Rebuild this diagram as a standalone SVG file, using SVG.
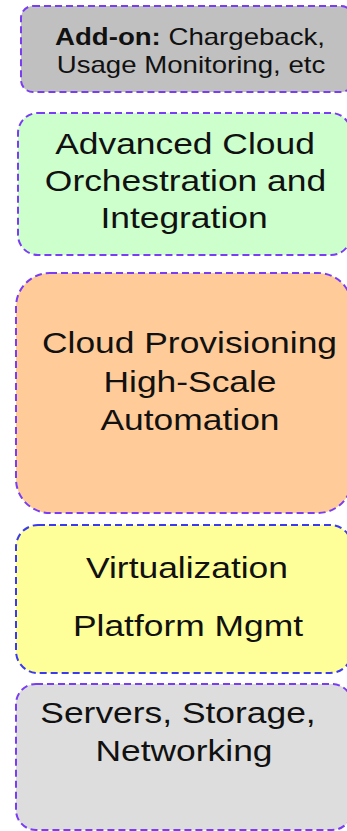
<svg xmlns="http://www.w3.org/2000/svg" width="347" height="831" viewBox="0 0 347 831">
<style>
.box{stroke:#7a3cf5;stroke-width:2;stroke-dasharray:7 4}
.blue{stroke:#3a3af0}
text{font-family:"Liberation Sans",Arial,sans-serif;fill:#111;text-anchor:middle;font-size:30px}
text.small{font-size:23.6px}
</style>
<rect width="347" height="831" fill="#ffffff"/>
<g id="addon">
<rect class="box" x="21" y="6" width="332" height="86" rx="12" fill="#c0c0c0"/>
<text class="small" transform="translate(190,45) scale(1.17,1)"><tspan font-weight="bold">Add-on:</tspan> Chargeback,</text>
<text class="small" transform="translate(191,73) scale(1.17,1)">Usage Monitoring, etc</text>
</g>
<g id="orchestration">
<rect class="box" x="18" y="113" width="333" height="142" rx="20" fill="#ccffcc"/>
<text transform="translate(185,154) scale(1.18,1)">Advanced Cloud</text>
<text transform="translate(185.5,191) scale(1.18,1)">Orchestration and</text>
<text transform="translate(184,228) scale(1.18,1)">Integration</text>
</g>
<g id="provisioning">
<rect class="box" x="16" y="273" width="336" height="240" rx="34" fill="#ffcc99"/>
<text transform="translate(189.5,353) scale(1.18,1)">Cloud Provisioning</text>
<text transform="translate(190,392) scale(1.18,1)">High-Scale</text>
<text transform="translate(190,430) scale(1.18,1)">Automation</text>
</g>
<g id="virtualization">
<rect class="box blue" x="16" y="525" width="336" height="148" rx="22" fill="#ffff99"/>
<text transform="translate(187,578) scale(1.18,1)">Virtualization</text>
<text transform="translate(188,636) scale(1.18,1)">Platform Mgmt</text>
</g>
<g id="infrastructure">
<rect class="box" x="16" y="684" width="336" height="146" rx="20" fill="#dddddd"/>
<text transform="translate(178,723) scale(1.18,1)">Servers, Storage,</text>
<text transform="translate(184,761) scale(1.18,1)">Networking</text>
</g>
<g id="connectors"></g>
</svg>
